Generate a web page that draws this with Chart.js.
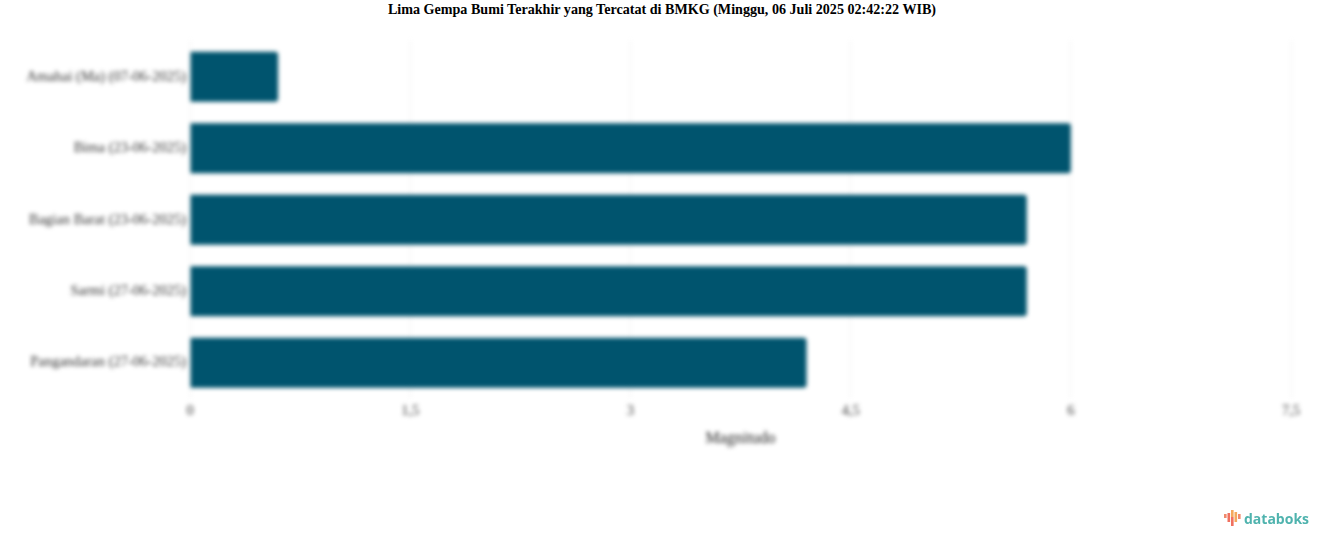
<!DOCTYPE html>
<html>
<head>
<meta charset="utf-8">
<title>Lima Gempa Bumi Terakhir</title>
<script src="https://cdn.jsdelivr.net/npm/chart.js@4"></script>
<style>
    html, body { margin: 0; padding: 0; background: #fff; }
    #wrap { position: relative; width: 1324px; height: 547px; overflow: hidden; }
    #chart-title {
        position: absolute; left: 0; top: 1px; width: 1324px; margin: 0;
        text-align: center; font: bold 14.1px "Liberation Serif", serif; color: #000; line-height: 17px;
    }
    #plot { position: absolute; left: 0; top: 0; filter: blur(2px); }
    #logo { position: absolute; left: 1224px; top: 510px; width: 90px; height: 18px; }
    #logo span {
        position: absolute; left: 20px; top: -1px;
        font: bold 14px "Open Sans", sans-serif; color: #4fb3ae;
    }
    #logo svg { position: absolute; left: 0; top: 0; }
</style>
</head>
<body>
<div id="wrap">
    <h1 id="chart-title">Lima Gempa Bumi Terakhir yang Tercatat di BMKG (Minggu, 06 Juli 2025 02:42:22 WIB)</h1>
    <canvas id="plot" width="1324" height="547"></canvas>
    <div id="logo">
        <svg width="19" height="18">
            <rect x="0" y="4" width="2.6" height="4" fill="#f08a6c"/>
            <rect x="3.5" y="3" width="2.6" height="9" fill="#f0705f"/>
            <rect x="7" y="0" width="2.6" height="7" fill="#f4a95c"/>
            <rect x="7" y="7" width="2.6" height="9" fill="#f0705f"/>
            <rect x="10.5" y="2" width="2.6" height="10" fill="#f4a95c"/>
            <rect x="14" y="4" width="2.6" height="5" fill="#f08a6c"/>
        </svg>
        <span>databoks</span>
    </div>
</div>
<script>
const categories = [
    'Amahai (Ma) (07-06-2025)',
    'Bima (23-06-2025)',
    'Bagian Barat (23-06-2025)',
    'Sarmi (27-06-2025)',
    'Pangandaran (27-06-2025)'
];
const magnitudes = [0.6, 6, 5.7, 5.7, 4.2];
const tickLabels = ['0', '1,5', '3', '4,5', '6', '7,5'];

document.addEventListener('DOMContentLoaded', () => {
    const ctx = document.getElementById('plot').getContext('2d');
    new Chart(ctx, {
        type: 'bar',
        data: {
            labels: categories,
            datasets: [{
                label: 'Magnitudo',
                data: magnitudes,
                backgroundColor: '#00546e',
                borderRadius: 3,
                categoryPercentage: 0.7,
                barPercentage: 1
            }]
        },
        options: {
            indexAxis: 'y',
            responsive: false,
            animation: false,
            layout: { padding: { top: 41, right: 33, bottom: 95, left: 0 } },
            plugins: { legend: { display: false }, tooltip: { enabled: false } },
            scales: {
                y: {
                    afterFit: axis => { axis.width = 190; },
                    grid: { display: false, drawTicks: false },
                    border: { display: false },
                    ticks: { color: '#333', padding: 4, font: { family: 'Liberation Serif', size: 14.5 } }
                },
                x: {
                    min: 0,
                    max: 7.5,
                    grid: { color: '#f0f0f0', drawTicks: false },
                    border: { display: false },
                    afterBuildTicks: axis => {
                        axis.ticks = tickLabels.map((_, i) => ({ value: i * 1.5 }));
                    },
                    ticks: {
                        color: '#333',
                        padding: 4,
                        maxRotation: 0,
                        font: { family: 'Liberation Serif', size: 14.5 },
                        callback: (value, index) => tickLabels[index]
                    },
                    title: {
                        display: true,
                        text: 'Magnitudo',
                        color: '#222',
                        padding: { top: 5 },
                        font: { family: 'Liberation Serif', size: 16 }
                    }
                }
            }
        }
    });
});
</script>
</body>
</html>
